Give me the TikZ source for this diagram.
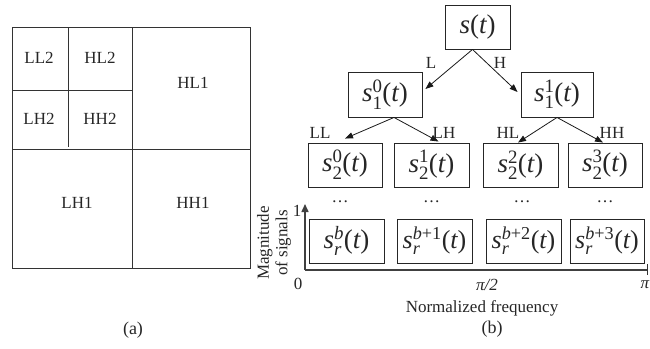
\documentclass[tikz,border=0pt]{standalone}
\usepackage{amsmath}
\usepackage{fontspec}
\setmainfont{Liberation Serif}
\usetikzlibrary{arrows.meta}
\newcommand{\iv}[1]{\text{\itshape #1}}
\newcommand{\rv}[1]{\text{\upshape #1}}
\newcommand{\sig}[2]{$\iv{s}^{#1}_{#2}\rv{(}\iv{t}\rv{)}$}
\begin{document}
\begin{tikzpicture}[x=1pt,y=-1pt,
  every node/.style={text=black!85},
  grid/.style={draw=black!80,line width=0.9pt},
  lbl/.style={font=\fontsize{17}{18}\selectfont,inner sep=0pt},
  sbox/.style={draw=black!85,line width=0.9pt,minimum height=44pt,inner sep=0pt,font=\fontsize{27}{30}\selectfont},
  arr/.style={draw=black!90,line width=0.8pt,-{Triangle[length=8pt,width=6pt]}},
  axis/.style={draw=black!75,line width=1.5pt}]
\useasboundingbox (0,0) rectangle (650,348);
% ---------- (a) ----------
\draw[grid] (12,27) rectangle (250,268);
\draw[grid] (132,27) -- (132,268);
\draw[grid] (12,149) -- (250,149);
\draw[grid] (68,27) -- (68,147);
\draw[grid] (12,90) -- (132,90);
\node[lbl] (ll2) at (39,58) {LL2};
\node[lbl] (hl2) at (100,58) {HL2};
\node[lbl] (lh2) at (39,119) {LH2};
\node[lbl] (hh2) at (100,119) {HH2};
\node[lbl] (hl1) at (193,83) {HL1};
\node[lbl] (lh1) at (77,203) {LH1};
\node[lbl] (hh1) at (193,203) {HH1};
\node[lbl,font=\fontsize{18}{19}\selectfont] (capa) at (133,330) {(a)};
% ---------- (b) ----------
\node[sbox,minimum width=65pt] (st) at (477.5,27) {$\iv{s}\rv{(}\iv{t}\rv{)}$};
\node[sbox,minimum width=74pt,minimum height=45pt] (s10) at (385,94.5) {\sig{\rv{0}}{\rv{1}}};
\node[sbox,minimum width=72pt,minimum height=45pt] (s11) at (557,94.5) {\sig{\rv{1}}{\rv{1}}};
\node[sbox,minimum width=74pt] (s20) at (345,165) {\sig{\rv{0}}{\rv{2}}};
\node[sbox,minimum width=75pt] (s21) at (431.5,165) {\sig{\rv{1}}{\rv{2}}};
\node[sbox,minimum width=75pt] (s22) at (520.5,165) {\sig{\rv{2}}{\rv{2}}};
\node[sbox,minimum width=74pt] (s23) at (605,165) {\sig{\rv{3}}{\rv{2}}};
\node[sbox,minimum width=75pt] (sr0) at (346.5,241) {\sig{\iv{b}}{\iv{r}}};
\node[sbox,minimum width=75pt,font=\fontsize{26}{29}\selectfont] (sr1) at (434.5,241) {\sig{\iv{b}\rv{+1}}{\iv{r}}};
\node[sbox,minimum width=75pt,font=\fontsize{26}{29}\selectfont] (sr2) at (523.5,241) {\sig{\iv{b}\rv{+2}}{\iv{r}}};
\node[sbox,minimum width=74pt,font=\fontsize{26}{29}\selectfont] (sr3) at (607,241) {\sig{\iv{b}\rv{+3}}{\iv{r}}};
% arrows
\draw[arr] ([xshift=-5pt]st.south) -- ([xshift=3pt,yshift=5.5pt]s10.east);
\draw[arr] ([xshift=-5pt]st.south) -- ([xshift=-3pt,yshift=2.5pt]s11.west);
\draw[arr] ([xshift=9pt]s10.south) -- ([yshift=4pt]s20.north);
\draw[arr] ([xshift=9pt]s10.south) -- ([xshift=7pt,yshift=1pt]s21.north);
\draw[arr] (s11.south) -- ([xshift=-2.5pt]s22.north);
\draw[arr] (s11.south) -- ([xshift=-2pt]s23.north);
\node[lbl] (lL) at (431,63) {L};
\node[lbl] (lH) at (500,63) {H};
\node[lbl] (lLL) at (320,133) {LL};
\node[lbl] (lLH) at (444,133) {LH};
\node[lbl] (lHL) at (508,133) {HL};
\node[lbl] (lHH) at (612,133) {HH};
% dots
\node[lbl] (d0) at (340,202) {\dots};
\node[lbl] (d1) at (431.5,202) {\dots};
\node[lbl] (d2) at (522,202) {\dots};
\node[lbl] (d3) at (605,202) {\dots};
% axes
\coordinate (o) at (305,270);
\coordinate (ytop) at (305,204);
\coordinate (xend) at (647,270);
\draw[axis,-{Triangle[length=8pt,width=7pt]}] (o) -- (ytop);
\draw[axis] (o) -- (xend);
\draw[draw=black!80,line width=1pt] ([yshift=6pt]xend) -- ([yshift=-5pt]xend);
\node[lbl] (one) at (297,211) {1};
\node[lbl] (zero) at (298,284) {0};
\node[lbl] (pi2) at (487,285) {\textit{π/2}};
\node[lbl] (pi) at (645,285) {\textit{π}};
\node[lbl,rotate=90,align=center,font=\fontsize{17}{18.5}\selectfont] (ylab) at (274,243) {Magnitude\\of signals};
\node[lbl] (xlab) at (482,308) {Normalized frequency};
\node[lbl,font=\fontsize{18}{19}\selectfont] (capb) at (492,329) {(b)};
\end{tikzpicture}
\end{document}
